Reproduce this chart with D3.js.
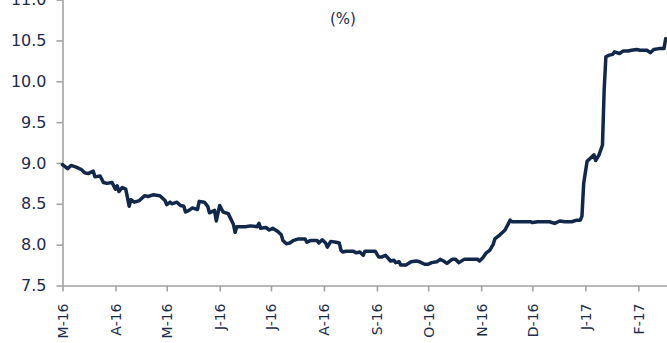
<!DOCTYPE html>
<html>
<head>
<meta charset="utf-8">
<script src="https://cdn.jsdelivr.net/npm/d3@7/dist/d3.min.js"></script>
<style>
  html, body { margin: 0; padding: 0; background: #fff; }
  svg { display: block; }
  .axis text { font-family: "DejaVu Sans", sans-serif; fill: #1b2c4b; }
  .axis path, .axis line { stroke: #a3a3a3; stroke-width: 1.6; }
</style>
</head>
<body>
<svg id="chart" width="667" height="343"></svg>
<script>
// Daily rate, in percent
const dates = [
  "2016-03-01","2016-03-04","2016-03-06","2016-03-09","2016-03-12","2016-03-14","2016-03-16","2016-03-19",
  "2016-03-20","2016-03-23","2016-03-25","2016-03-27","2016-03-30","2016-04-01","2016-04-02","2016-04-03",
  "2016-04-05","2016-04-07","2016-04-08","2016-04-09","2016-04-10","2016-04-12","2016-04-15","2016-04-18",
  "2016-04-20","2016-04-23","2016-04-27","2016-04-30","2016-05-01","2016-05-03","2016-05-04","2016-05-07",
  "2016-05-09","2016-05-11","2016-05-12","2016-05-14","2016-05-16","2016-05-19","2016-05-20","2016-05-23",
  "2016-05-25","2016-05-26","2016-05-29","2016-05-30","2016-06-01","2016-06-03","2016-06-06","2016-06-09",
  "2016-06-10","2016-06-11","2016-06-16","2016-06-19","2016-06-23","2016-06-24","2016-06-25","2016-06-28",
  "2016-06-30","2016-07-02","2016-07-05","2016-07-07","2016-07-08","2016-07-10","2016-07-12","2016-07-14",
  "2016-07-17","2016-07-21","2016-07-22","2016-07-24","2016-07-28","2016-07-29","2016-07-31","2016-08-02",
  "2016-08-03","2016-08-05","2016-08-08","2016-08-10","2016-08-11","2016-08-12","2016-08-14","2016-08-18",
  "2016-08-20","2016-08-22","2016-08-24","2016-08-25","2016-08-31","2016-09-02","2016-09-04","2016-09-06",
  "2016-09-09","2016-09-11","2016-09-12","2016-09-14","2016-09-15","2016-09-18","2016-09-21","2016-09-24",
  "2016-09-26","2016-09-29","2016-10-01","2016-10-03","2016-10-06","2016-10-08","2016-10-10","2016-10-12",
  "2016-10-15","2016-10-17","2016-10-19","2016-10-22","2016-10-30","2016-10-31","2016-11-02","2016-11-04",
  "2016-11-06","2016-11-08","2016-11-09","2016-11-12","2016-11-15","2016-11-18","2016-11-19","2016-11-30",
  "2016-12-01","2016-12-04","2016-12-11","2016-12-14","2016-12-17","2016-12-20","2016-12-24","2016-12-27",
  "2016-12-29","2016-12-30","2016-12-31","2017-01-02","2017-01-05","2017-01-06","2017-01-07","2017-01-09",
  "2017-01-11","2017-01-12","2017-01-13","2017-01-15","2017-01-17","2017-01-18","2017-01-21","2017-01-23",
  "2017-01-26","2017-01-28","2017-01-31","2017-02-02","2017-02-06","2017-02-08","2017-02-10","2017-02-13",
  "2017-02-16","2017-02-17"
];
const rates = [
  8.98, 8.93, 8.97, 8.95, 8.92, 8.88, 8.87, 8.90,
  8.83, 8.84, 8.76, 8.75, 8.76, 8.68, 8.72, 8.65,
  8.70, 8.68, 8.58, 8.47, 8.55, 8.52, 8.54, 8.60,
  8.59, 8.61, 8.60, 8.54, 8.49, 8.52, 8.50, 8.52,
  8.48, 8.47, 8.40, 8.42, 8.45, 8.43, 8.53, 8.52,
  8.47, 8.39, 8.42, 8.29, 8.48, 8.40, 8.38, 8.25,
  8.15, 8.22, 8.22, 8.23, 8.22, 8.26, 8.20, 8.21,
  8.18, 8.20, 8.16, 8.12, 8.05, 8.01, 8.02, 8.05,
  8.07, 8.07, 8.03, 8.05, 8.05, 8.02, 8.06, 8.02,
  7.97, 8.04, 8.03, 8.02, 7.93, 7.91, 7.92, 7.92,
  7.90, 7.91, 7.87, 7.92, 7.92, 7.85, 7.85, 7.87,
  7.80, 7.81, 7.78, 7.79, 7.75, 7.75, 7.79, 7.80,
  7.79, 7.76, 7.76, 7.78, 7.79, 7.82, 7.80, 7.77,
  7.82, 7.82, 7.78, 7.82, 7.82, 7.80, 7.84, 7.90,
  7.93, 8.00, 8.07, 8.12, 8.18, 8.30, 8.28, 8.28,
  8.27, 8.28, 8.28, 8.26, 8.29, 8.28, 8.28, 8.30,
  8.30, 8.35, 8.75, 9.02, 9.08, 9.10, 9.03, 9.10,
  9.22, 9.90, 10.30, 10.32, 10.33, 10.36, 10.34, 10.37,
  10.37, 10.38, 10.39, 10.38, 10.38, 10.35, 10.39, 10.40,
  10.40, 10.52
];
const tickMonths = [
  "2016-03-01","2016-04-01","2016-05-01","2016-06-01","2016-07-01","2016-08-01",
  "2016-09-01","2016-10-01","2016-11-01","2016-12-01","2017-01-01","2017-02-01"
];
const tickLabels = ["M-16","A-16","M-16","J-16","J-16","A-16","S-16","O-16","N-16","D-16","J-17","F-17"];
const yTicks = [7.5, 8.0, 8.5, 9.0, 9.5, 10.0, 10.5, 11.0];
const title = "(%)";

const parse = d3.utcParse("%Y-%m-%d");
const series = dates.map((d, i) => ({ date: parse(d), value: rates[i] }));
const tickDates = tickMonths.map(parse);

const svg = d3.select("#chart");
const plotLeft = 62.5, plotRight = 667.4, plotTop = -0.4, plotBottom = 285.5;

const x = d3.scaleUtc()
  .domain([parse("2016-03-01"), parse("2017-02-18")])
  .range([plotLeft, plotRight]);
const y = d3.scaleLinear().domain([7.5, 11]).range([plotBottom, plotTop]);

// y axis
svg.append("g")
  .attr("class", "axis")
  .attr("transform", `translate(${plotLeft},0)`)
  .call(d3.axisLeft(y).tickValues(yTicks).tickFormat(d3.format(".1f"))
    .tickSize(6).tickSizeOuter(0).tickPadding(10))
  .selectAll("text")
  .style("font-size", "16px");

// x axis with rotated month labels
const xa = svg.append("g")
  .attr("class", "axis")
  .attr("transform", `translate(0,${plotBottom})`)
  .call(d3.axisBottom(x).tickValues(tickDates)
    .tickFormat((d, i) => tickLabels[i]).tickSize(6).tickSizeOuter(0));
xa.selectAll("text")
  .style("font-size", "14px")
  .attr("text-anchor", "end")
  .attr("transform", "rotate(-90)")
  .attr("x", -18)
  .attr("y", 0)
  .attr("dy", "0.35em");

// rate line
svg.append("path")
  .datum(series)
  .attr("fill", "none")
  .attr("stroke", "#11284a")
  .attr("stroke-width", 3.5)
  .attr("stroke-linejoin", "round")
  .attr("stroke-linecap", "round")
  .attr("d", d3.line().x(d => x(d.date)).y(d => y(d.value)));

svg.append("text")
  .attr("x", 343)
  .attr("y", 24)
  .attr("text-anchor", "middle")
  .style("font-family", "DejaVu Sans, sans-serif")
  .style("font-size", "15px")
  .style("fill", "#1b2c4b")
  .text(title);
</script>
</body>
</html>
